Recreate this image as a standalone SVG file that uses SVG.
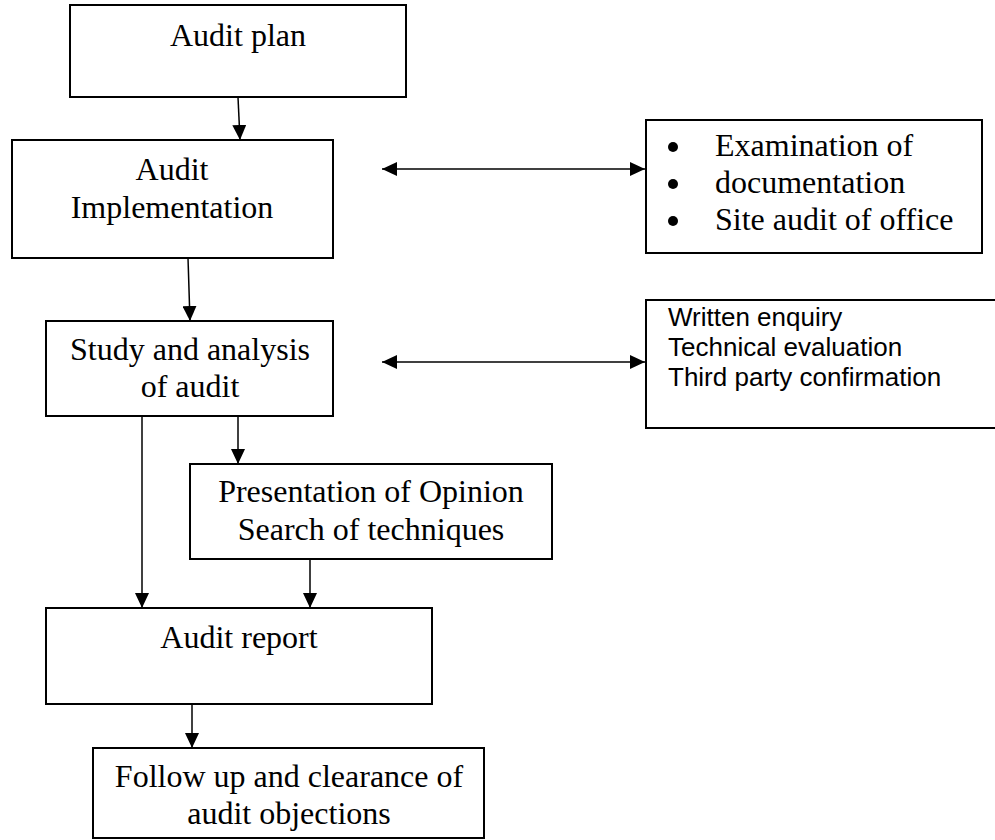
<svg xmlns="http://www.w3.org/2000/svg" width="995" height="840" viewBox="0 0 995 840">
<style>
.box{fill:#fff;stroke:#000;stroke-width:2}
.t{font-family:"Liberation Serif","Times New Roman",serif;font-size:32px;fill:#000}
.c{text-anchor:middle}
.s{font-family:"Liberation Sans",Arial,sans-serif;font-size:26px;fill:#000}
.ln{stroke:#000;stroke-width:1.5;fill:none}
.dot{fill:#000}
</style>
<defs>
<marker id="ah" viewBox="0 0 15 14" refX="15" refY="7" markerWidth="15" markerHeight="14" markerUnits="userSpaceOnUse" orient="auto-start-reverse">
<path d="M0,0 L15,7 L0,14 Z" fill="#000"/>
</marker>
</defs>
<rect width="995" height="840" fill="#fff"/>
<g id="connectors">
<line class="ln" x1="238" y1="97" x2="240" y2="140" marker-end="url(#ah)"/>
<line class="ln" x1="188" y1="258" x2="190" y2="321" marker-end="url(#ah)"/>
<line class="ln" x1="238" y1="416" x2="238" y2="464" marker-end="url(#ah)"/>
<line class="ln" x1="142" y1="416" x2="142" y2="608" marker-end="url(#ah)"/>
<line class="ln" x1="310" y1="559" x2="310" y2="608" marker-end="url(#ah)"/>
<line class="ln" x1="192" y1="704" x2="192" y2="748" marker-end="url(#ah)"/>
<line class="ln" x1="382" y1="169" x2="645" y2="169" marker-start="url(#ah)" marker-end="url(#ah)"/>
<line class="ln" x1="382" y1="362" x2="645" y2="362" marker-start="url(#ah)" marker-end="url(#ah)"/>
</g>
<g id="audit-plan">
<rect class="box" x="70" y="5" width="336" height="92"/>
<text class="t c" x="238" y="46">Audit plan</text>
</g>
<g id="audit-implementation">
<rect class="box" x="12" y="140" width="321" height="118"/>
<text class="t c" x="172" y="180">Audit</text>
<text class="t c" x="172" y="218">Implementation</text>
</g>
<g id="examination">
<rect class="box" x="646" y="120" width="336" height="133"/>
<circle class="dot" cx="673" cy="147" r="5"/>
<circle class="dot" cx="673" cy="184" r="5"/>
<circle class="dot" cx="673" cy="221" r="5"/>
<text class="t" x="715" y="156">Examination of</text>
<text class="t" x="715" y="193">documentation</text>
<text class="t" x="715" y="230">Site audit of office</text>
</g>
<g id="study-analysis">
<rect class="box" x="46" y="321" width="287" height="95"/>
<text class="t c" x="190" y="360">Study and analysis</text>
<text class="t c" x="190" y="397">of audit</text>
</g>
<g id="techniques">
<rect class="box" x="646" y="300" width="360" height="128"/>
<text class="s" x="668" y="326">Written enquiry</text>
<text class="s" x="668" y="356">Technical evaluation</text>
<text class="s" x="668" y="386">Third party confirmation</text>
</g>
<g id="presentation">
<rect class="box" x="190" y="464" width="362" height="95"/>
<text class="t c" x="371" y="502">Presentation of Opinion</text>
<text class="t c" x="371" y="540">Search of techniques</text>
</g>
<g id="audit-report">
<rect class="box" x="46" y="608" width="386" height="96"/>
<text class="t c" x="239" y="648">Audit report</text>
</g>
<g id="follow-up">
<rect class="box" x="93" y="748" width="391" height="90"/>
<text class="t c" x="289" y="787">Follow up and clearance of</text>
<text class="t c" x="289" y="824">audit objections</text>
</g>
</svg>
